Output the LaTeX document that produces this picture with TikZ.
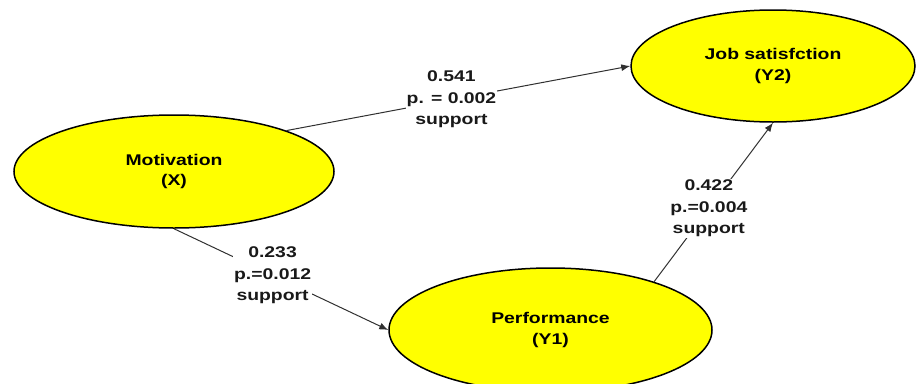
\documentclass[tikz,border=0pt]{standalone}
\usepackage{fontspec}
\setmainfont{Liberation Sans}[FakeStretch=1.25]
\usepackage{xcolor,tikz}
\usetikzlibrary{shapes.geometric,arrows.meta}
\definecolor{semYellow}{HTML}{FFFF00}
\definecolor{semLine}{HTML}{303030}
\tikzset{
  latent/.style={
    ellipse, draw=black, fill=semYellow, line width=1.5pt,
    inner sep=0pt, align=center,
    font=\fontsize{15.5}{20.5}\selectfont\bfseries,
  },
  path arrow/.style={
    -{Latex[length=9pt, width=7pt]},
    draw=semLine, line width=1pt,
  },
  est label/.style={
    fill=white, inner sep=1pt, align=center, text=black!90,
    font=\fontsize{15.5}{21.5}\selectfont\bfseries,
  },
}

\begin{document}
\begin{tikzpicture}[x=1pt, y=-1pt]

% Canvas (pixels, origin top left)
\useasboundingbox (0,0) rectangle (917,383);

% Constructs
\node[latent, minimum width=320pt, minimum height=113pt] (mot)  at (174,171.5) {Motivation\\(X)};
\node[latent, minimum width=284pt, minimum height=112pt] (job)  at (773,66)    {Job satisfction\\(Y2)};
\node[latent, minimum width=323pt, minimum height=124pt] (perf) at (550.5,330) {Performance\\(Y1)};

% Paths with estimates
\draw[path arrow] (mot.20) -- (job.west)
  node[pos=0.48, est label] {0.541\\p. = 0.002\\support};
\draw[path arrow] (mot.south) -- (perf.west)
  node[pos=0.46, est label] {0.233\\p.=0.012\\support};
\draw[path arrow] (perf.25) -- (job.south)
  node[pos=0.46, est label] {0.422\\p.=0.004\\support};

\end{tikzpicture}
\end{document}
